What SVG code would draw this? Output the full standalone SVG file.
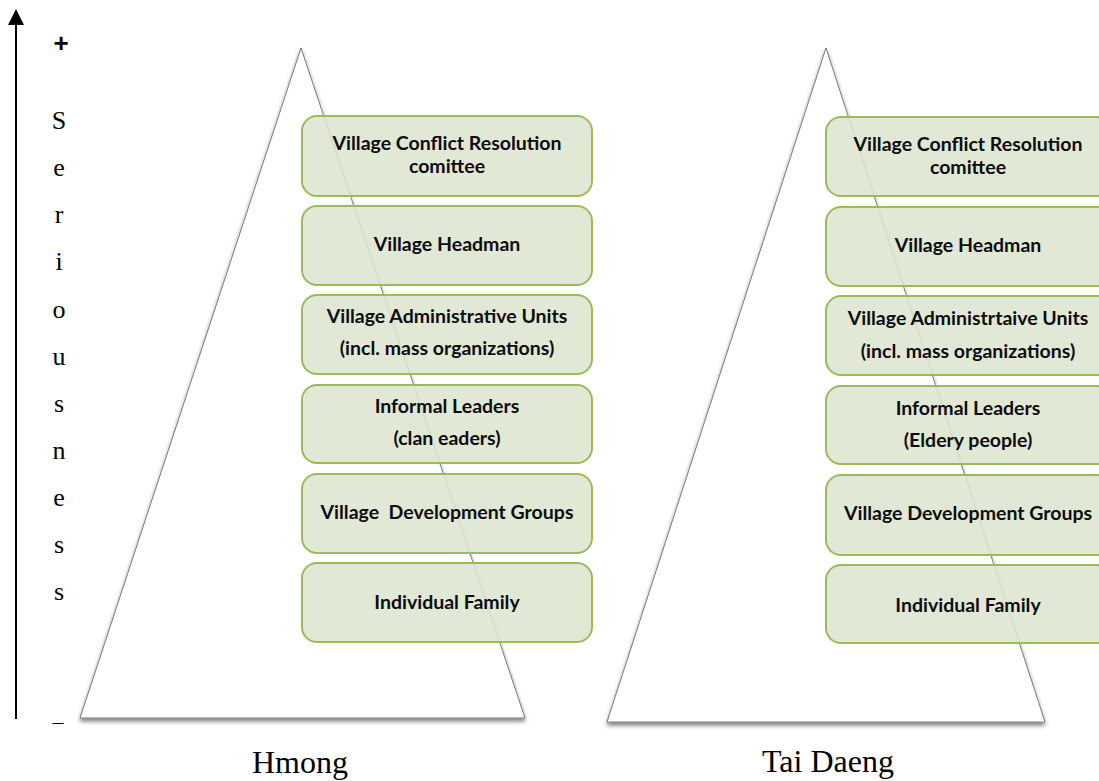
<svg xmlns="http://www.w3.org/2000/svg" width="1099" height="781" viewBox="0 0 1099 781">
  <style>
    .tri { fill: #ffffff; stroke: #7a7a7a; stroke-width: 1; }
    .box { fill: #dde5cf; fill-opacity: 0.88; stroke: #9bbb59; stroke-width: 2; }
    .lbl { font-family: Lato, "Liberation Sans", sans-serif; font-weight: bold; font-size: 19.5px; fill: #0d0d0d; text-anchor: middle; }
    .axis { font-family: "Liberation Serif", serif; font-size: 26px; fill: #000000; text-anchor: middle; }
    .title { font-family: "Liberation Serif", serif; font-size: 32px; fill: #000000; text-anchor: middle; }
  </style>
  <defs>
    <filter id="shadow" x="-10%" y="-10%" width="120%" height="120%">
      <feDropShadow dx="0" dy="3" stdDeviation="2" flood-color="#000000" flood-opacity="0.5"/>
    </filter>
  </defs>
  <rect width="1099" height="781" fill="#ffffff"/>

  <!-- Seriousness axis -->
  <g id="axis">
    <line x1="16" y1="719" x2="16" y2="24" stroke="#000000" stroke-width="2"/>
    <path d="M16,9 L8,25 L24,25 Z" fill="#000000"/>
    <text x="61" y="52" style="font-family: 'Liberation Sans', sans-serif; font-weight: bold; font-size: 26px; text-anchor: middle;">+</text>
    <text class="axis" x="59" y="129">S</text>
    <text class="axis" x="59" y="176">e</text>
    <text class="axis" x="59" y="223">r</text>
    <text class="axis" x="59" y="270">i</text>
    <text class="axis" x="59" y="318">o</text>
    <text class="axis" x="59" y="365">u</text>
    <text class="axis" x="59" y="412">s</text>
    <text class="axis" x="59" y="459">n</text>
    <text class="axis" x="59" y="506">e</text>
    <text class="axis" x="59" y="553">s</text>
    <text class="axis" x="59" y="600">s</text>
    <text class="axis" x="58" y="729" style="font-size: 22px;">–</text>
  </g>

  <!-- Hmong pyramid -->
  <g id="hmong-pyramid">
    <polygon class="tri" points="301,48 80,718 525,718" filter="url(#shadow)"/>
    <text class="title" x="300" y="773">Hmong</text>
  </g>

  <g id="hmong-conflict-committee">
    <rect class="box" x="302" y="116" width="290" height="80" rx="15"/>
    <text class="lbl" x="447" y="150">Village Conflict Resolution</text>
    <text class="lbl" x="447" y="173">comittee</text>
  </g>
  <g id="hmong-headman">
    <rect class="box" x="302" y="206" width="290" height="79" rx="15"/>
    <text class="lbl" x="447" y="251">Village Headman</text>
  </g>
  <g id="hmong-admin-units">
    <rect class="box" x="302" y="295" width="290" height="79" rx="15"/>
    <text class="lbl" x="447" y="323">Village Administrative Units</text>
    <text class="lbl" x="447" y="355">(incl. mass organizations)</text>
  </g>
  <g id="hmong-informal-leaders">
    <rect class="box" x="302" y="385" width="290" height="78" rx="15"/>
    <text class="lbl" x="447" y="413">Informal Leaders</text>
    <text class="lbl" x="447" y="445">(clan eaders)</text>
  </g>
  <g id="hmong-development-groups">
    <rect class="box" x="302" y="474" width="290" height="79" rx="15"/>
    <text class="lbl" x="447" y="519" xml:space="preserve">Village  Development Groups</text>
  </g>
  <g id="hmong-family">
    <rect class="box" x="302" y="563" width="290" height="79" rx="15"/>
    <text class="lbl" x="447" y="609">Individual Family</text>
  </g>

  <!-- Tai Daeng pyramid -->
  <g id="taidaeng-pyramid">
    <polygon class="tri" points="826,48 607,722 1045,722" filter="url(#shadow)"/>
    <text class="title" x="828" y="772">Tai Daeng</text>
  </g>

  <g id="taidaeng-conflict-committee">
    <rect class="box" x="826" y="117" width="286" height="79" rx="15"/>
    <text class="lbl" x="968" y="151">Village Conflict Resolution</text>
    <text class="lbl" x="968" y="174">comittee</text>
  </g>
  <g id="taidaeng-headman">
    <rect class="box" x="826" y="207" width="286" height="79" rx="15"/>
    <text class="lbl" x="968" y="252">Village Headman</text>
  </g>
  <g id="taidaeng-admin-units">
    <rect class="box" x="826" y="296" width="286" height="79" rx="15"/>
    <text class="lbl" x="968" y="325">Village Administrtaive Units</text>
    <text class="lbl" x="968" y="358">(incl. mass organizations)</text>
  </g>
  <g id="taidaeng-informal-leaders">
    <rect class="box" x="826" y="386" width="286" height="78" rx="15"/>
    <text class="lbl" x="968" y="415">Informal Leaders</text>
    <text class="lbl" x="968" y="447">(Eldery people)</text>
  </g>
  <g id="taidaeng-development-groups">
    <rect class="box" x="826" y="475" width="286" height="80" rx="15"/>
    <text class="lbl" x="968" y="520">Village Development Groups</text>
  </g>
  <g id="taidaeng-family">
    <rect class="box" x="826" y="565" width="286" height="78" rx="15"/>
    <text class="lbl" x="968" y="612">Individual Family</text>
  </g>

  <g id="connectors"/>
</svg>
